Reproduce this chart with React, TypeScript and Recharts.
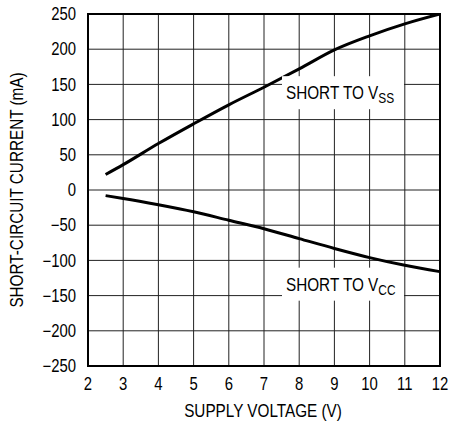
import React from "react";
import {
  LineChart,
  Line,
  XAxis,
  YAxis,
  CartesianGrid,
  ReferenceArea,
  ReferenceDot,
} from "recharts";

const xTicks = [2, 3, 4, 5, 6, 7, 8, 9, 10, 11, 12];
const yTicks = [-250, -200, -150, -100, -50, 0, 50, 100, 150, 200, 250];

const vssVoltage = [2.5, 3, 4, 5, 6, 7, 8, 9, 10, 11, 12];
const vssCurrent = [22, 36, 66, 94, 121, 146, 172, 199, 219, 236, 250];

const vccVoltage = [2.5, 3, 4, 5, 6, 7, 8, 9, 10, 11, 12];
const vccCurrent = [-8, -12, -21, -31, -43, -55, -69, -83, -96, -107, -116];

const vssData = vssVoltage.map((v, i) => ({ v, i: vssCurrent[i] }));
const vccData = vccVoltage.map((v, i) => ({ v, i: vccCurrent[i] }));

const FONT = "'Liberation Sans', Arial, sans-serif";
const SX = 0.85;

const fmtY = (v: number) => (v < 0 ? "\u2212" + Math.abs(v) : String(v));

const NarrowText = ({ x, y, anchor, dy, size, children, rotate }: any) => (
  <g transform={`translate(${x},${y})${rotate ? ` rotate(${rotate})` : ""} scale(${SX},1)`}>
    <text x={0} y={0} dy={dy} textAnchor={anchor} fontFamily={FONT} fontSize={size} fill="#000">
      {children}
    </text>
  </g>
);

const XTick = (props: any) => (
  <NarrowText x={props.x} y={props.y} anchor="middle" dy="0.71em" size={17.5}>
    {String(props.payload.value)}
  </NarrowText>
);

const YTick = (props: any) => (
  <NarrowText x={props.x} y={props.y} anchor="end" dy="0.355em" size={17.5}>
    {fmtY(props.payload.value)}
  </NarrowText>
);

const makeLabel = (sub: string) => (props: any) => {
  const { cx, cy } = props;
  return (
    <g>
      <rect x={cx - 4} y={cy - 23} width={122} height={33} fill="#fff" />
      <NarrowText x={cx} y={cy} anchor="start" size={18}>
        SHORT TO V
        <tspan fontSize={14} dy={4}>
          {sub}
        </tspan>
      </NarrowText>
    </g>
  );
};

const YLabel = (props: any) => {
  const vb = props.viewBox || { x: 0, y: 14, width: 88, height: 352 };
  const cx = vb.x + 17;
  const cy = vb.y + vb.height / 2;
  return (
    <NarrowText x={cx} y={cy} anchor="middle" dy="0.355em" size={18} rotate={-90}>
      SHORT-CIRCUIT CURRENT (mA)
    </NarrowText>
  );
};

const XLabel = (props: any) => {
  const vb = props.viewBox || { x: 88, y: 366, width: 352, height: 55 };
  const cx = vb.x + vb.width / 2 - 1;
  const cy = vb.y + vb.height - 4;
  return (
    <NarrowText x={cx} y={cy} anchor="middle" size={18}>
      SUPPLY VOLTAGE (V)
    </NarrowText>
  );
};

export default function App() {
  return (
    <div style={{ position: "absolute", left: 0, top: 0, background: "#fff" }}>
      <LineChart
        width={449}
        height={421}
        margin={{ top: 14, right: 9, left: 0, bottom: 0 }}
      >
        <CartesianGrid stroke="#222" strokeWidth={1} fill="none" />
        <XAxis
          dataKey="v"
          type="number"
          domain={[2, 12]}
          ticks={xTicks}
          allowDataOverflow
          height={55}
          tickSize={0}
          tickMargin={12}
          axisLine={false}
          tick={<XTick />}
          label={<XLabel />}
        />
        <YAxis
          type="number"
          domain={[-250, 250]}
          ticks={yTicks}
          allowDataOverflow
          width={88}
          tickSize={0}
          tickMargin={12}
          axisLine={false}
          tick={<YTick />}
          label={<YLabel />}
        />
        <ReferenceArea
          x1={2}
          x2={12}
          y1={-250}
          y2={250}
          fill="none"
          fillOpacity={0}
          stroke="#000"
          strokeWidth={2}
          ifOverflow="visible"
        />
        <ReferenceDot x={7.625} y={129} r={0} shape={makeLabel("SS")} ifOverflow="visible" />
        <ReferenceDot x={7.625} y={-143} r={0} shape={makeLabel("CC")} ifOverflow="visible" />
        <Line
          data={vssData}
          dataKey="i"
          type="monotone"
          stroke="#000"
          strokeWidth={3}
          dot={false}
          isAnimationActive={false}
        />
        <Line
          data={vccData}
          dataKey="i"
          type="monotone"
          stroke="#000"
          strokeWidth={3}
          dot={false}
          isAnimationActive={false}
        />
      </LineChart>
    </div>
  );
}
